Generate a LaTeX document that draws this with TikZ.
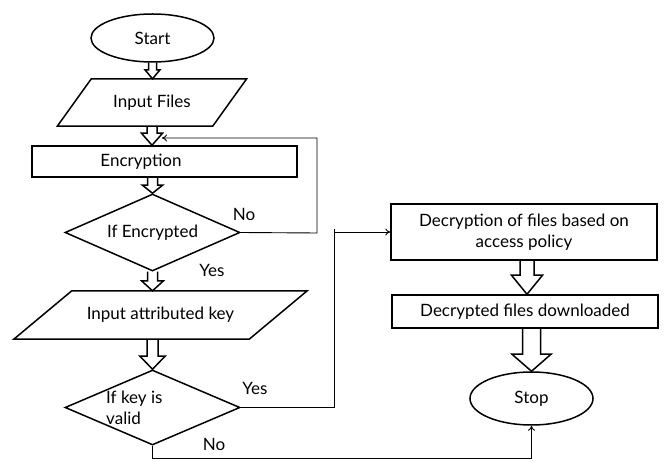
\documentclass[tikz,border=0pt]{standalone}
\usepackage{fontspec}
\setmainfont{Lato}
\usetikzlibrary{shapes.geometric,calc,arrows.meta}
\newcommand{\blockarr}[5]{%
  \draw[barrow] let \p1=(#1), \p2=(#2) in
    (\x1-#3,\y1) -- (\x1-#3,\y2+#5) -- (\x1-#4,\y2+#5) -- (\x1,\y2)
    -- (\x1+#4,\y2+#5) -- (\x1+#3,\y2+#5) -- (\x1+#3,\y1);}
\newcommand{\paraline}[2]{%
  \draw[shp] ([xshift=-#2]#1.south west) -- ([xshift=-#2]#1.south east)
    -- ([xshift=#2]#1.north east) -- ([xshift=#2]#1.north west) -- cycle;}
\begin{document}
\begin{tikzpicture}[x=1pt,y=-1pt,
  every node/.style={font=\fontsize{17}{20.5}\selectfont, inner sep=0pt},
  shp/.style={draw, line width=1.5pt},
  term/.style={shp, ellipse},
  proc/.style={shp, rectangle},
  dec/.style={shp, diamond, aspect=2.27},
  para/.style={rectangle},
  conn/.style={line width=0.9pt, -{To[length=5pt,width=7pt]}},
  plain/.style={line width=0.9pt},
  barrow/.style={line width=1.5pt, line join=miter}]
\useasboundingbox (0,0) rectangle (665,462);
% nodes
\node[term, minimum width=123pt, minimum height=48pt] (start) at (152.5,38) {Start};
\node[para, minimum width=155pt, minimum height=47pt] (inf) at (152,102.5) {Input Files};
\node[proc, minimum width=265pt, minimum height=31pt] (enc) at (164.5,161.5) {};
\node (enct) at (141,162) {Encryption};
\node[dec, minimum width=175pt, minimum height=77pt] (ed) at (152.5,232.5) {If Encrypted};
\node[para, minimum width=235pt, minimum height=48pt] (ik) at (160.5,315) {Input attributed key};
\node[dec, minimum width=175pt, minimum height=75pt] (kd) at (152.5,407.5) {};
\node[align=left, anchor=west] (kdt) at (106,408) {If key is\\valid};
\node[proc, minimum width=266pt, minimum height=56pt, align=center] (dcr) at (524,232) {Decryption of files based on\\access policy};
\node[proc, minimum width=266pt, minimum height=33pt] (dl) at (525,311.5) {Decrypted files downloaded};
\node[term, minimum width=123pt, minimum height=53pt] (stop) at (531.5,398.5) {Stop};
% labels
\node (no1) at (244,214) {No};
\node (yes1) at (212,270) {Yes};
\node (yes2) at (255,388) {Yes};
\node (no2) at (214,444) {No};
% parallelograms
\paraline{inf}{17pt}
\paraline{ik}{29pt}
% block arrows
\blockarr{start.south}{inf.north}{4pt}{7.5pt}{9pt}
\blockarr{inf.south}{enc.north}{5pt}{10.5pt}{12pt}
\blockarr{ed.north |- enc.south}{ed.north}{5pt}{10pt}{8pt}
\blockarr{ed.south}{ik.north}{5pt}{11pt}{10pt}
\blockarr{kd.north |- ik.south}{kd.north}{5.5pt}{12.5pt}{13pt}
\blockarr{[xshift=3pt]dcr.south}{dl.north}{7pt}{15.5pt}{19pt}
\blockarr{stop.north |- dl.south}{stop.north}{9pt}{19.5pt}{17pt}
% thin connectors
\coordinate (loopin) at (162,138);
\draw[conn] (ed.east) -- (317,233) -- (317,138) -- (loopin);
\coordinate (ytop) at (334,229);
\draw[plain] (kd.east) -| (ytop);
\draw[conn] (ytop |- dcr.west) -- (dcr.west);
\draw[conn] (kd.south) |- ($(stop.south)+(0,33)$) -- (stop.south);
\end{tikzpicture}
\end{document}
